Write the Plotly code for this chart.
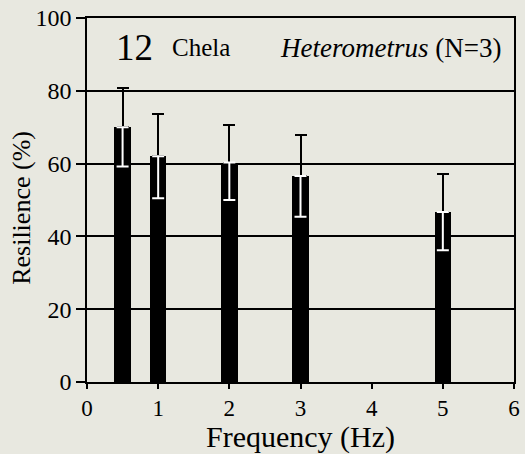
import plotly.graph_objects as go

freq = [0.5, 1, 2, 3, 5]
resilience = [70, 62, 60.3, 56.6, 46.7]
err = [10.8, 11.5, 10.3, 11.2, 10.5]

FONT = "Liberation Serif"
BG = "#e8e8e0"

fig = go.Figure()
fig.add_trace(go.Bar(
    x=freq, y=resilience, width=0.23,
    marker=dict(color="black", line=dict(width=0)),
    error_y=dict(type="data", array=err, arrayminus=[0]*len(err), symmetric=False,
                 color="black", thickness=2, width=6),
    showlegend=False,
))
fig.add_trace(go.Scatter(
    x=freq, y=resilience, mode="markers",
    marker=dict(size=1, color="rgba(0,0,0,0)"),
    error_y=dict(type="data", array=[0]*len(err), arrayminus=err, symmetric=False,
                 color="white", thickness=2, width=6),
    showlegend=False, hoverinfo="skip",
))

fig.add_annotation(x=0.063, y=0.918, xref="paper", yref="paper", text="12",
                   showarrow=False, xanchor="left", yanchor="middle",
                   font=dict(family=FONT, size=37, color="black"))
fig.add_annotation(x=0.194, y=0.918, xref="paper", yref="paper", text="Chela",
                   showarrow=False, xanchor="left", yanchor="middle",
                   font=dict(family=FONT, size=25, color="black"))
fig.add_annotation(x=0.974, y=0.918, xref="paper", yref="paper",
                   text="<i>Heterometrus</i> (N=3)",
                   showarrow=False, xanchor="right", yanchor="middle",
                   font=dict(family=FONT, size=27, color="black"))
# axis titles
fig.add_annotation(x=0.5, y=-0.15, xref="paper", yref="paper", text="Frequency (Hz)",
                   showarrow=False, xanchor="center", yanchor="middle",
                   font=dict(family=FONT, size=30, color="black"))
fig.add_annotation(x=-0.155, y=0.478, xref="paper", yref="paper", text="Resilience (%)",
                   textangle=-90, showarrow=False, xanchor="center", yanchor="middle",
                   font=dict(family=FONT, size=26, color="black"))

fig.update_layout(
    width=525, height=454,
    margin=dict(l=87, r=5, t=17, b=72),
    paper_bgcolor=BG, plot_bgcolor=BG,
    font=dict(family=FONT, color="black"),
    bargap=0,
)
fig.update_xaxes(
    range=[0, 6], tickvals=[0, 1, 2, 3, 4, 5, 6],
    ticks="outside", ticklen=5, tickwidth=1.5, tickcolor="black",
    showline=True, linecolor="black", linewidth=1.5, mirror=True,
    showgrid=False, zeroline=False,
    tickfont=dict(family=FONT, size=23),
)
fig.update_yaxes(
    range=[0, 100], tickvals=[0, 20, 40, 60, 80, 100],
    ticks="outside", ticklen=9, tickwidth=1.5, tickcolor="black",
    showline=True, linecolor="black", linewidth=1.5, mirror=True,
    showgrid=True, gridcolor="black", gridwidth=1.5, zeroline=False,
    tickfont=dict(family=FONT, size=24),
)

fig.write_html("out.html")
